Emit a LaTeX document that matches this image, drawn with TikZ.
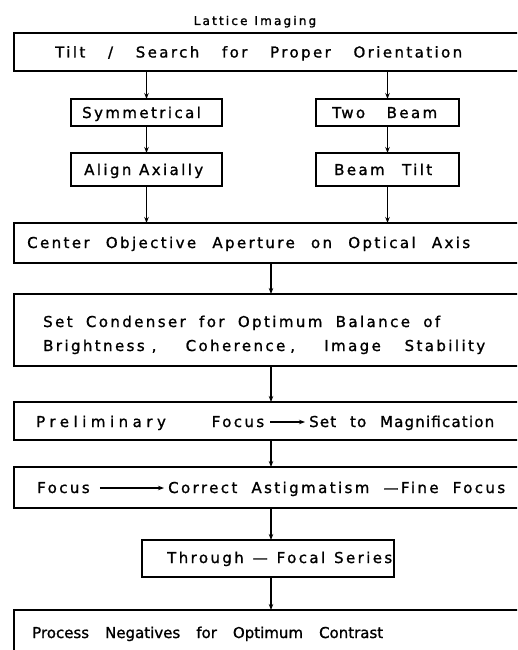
\documentclass[tikz,border=0pt]{standalone}
\usepackage{fontspec}
\setmainfont{DejaVu Sans}[LetterSpace=16, FakeBold=1.2]
\usetikzlibrary{arrows.meta}
\newcommand\spreadline[2]{\hbox to #1{\spaceskip=2pt plus 1fil\relax #2}}
\newcommand\widels[1]{{\addfontfeatures{LetterSpace=30}#1}}
\newcommand\narrowls[1]{{\addfontfeatures{LetterSpace=0}#1}}
\newcommand\midls[1]{{\addfontfeatures{LetterSpace=8}#1}}
\tikzset{
  box/.style={draw, line width=1.2pt, inner sep=0pt, outer sep=0pt},
  txt/.style={anchor=base west, inner sep=0pt, font=\fontsize{15}{18}\selectfont},
  conn/.style={line width=1.1pt, -{Stealth[length=6pt,width=4.5pt]}},
  tarrow/.style={line width=1.1pt, -{Stealth[length=6pt,width=4.5pt]}}
}
\begin{document}
\begin{tikzpicture}[x=1pt,y=-1pt]
\clip (0,0) rectangle (517,650);
\fill[white] (0,0) rectangle (517,650);
% title
\node[anchor=base, inner sep=0pt, font=\fontsize{12}{14}\selectfont] (title) at (255,25) {\addfontfeatures{LetterSpace=18, FakeBold=1.6}Lattice\hspace{7pt}Imaging};
% boxes
\node[box, minimum width=514pt, minimum height=38pt] (top) at (271,52) {};
\node[box, minimum width=151pt, minimum height=27pt] (sym) at (146.5,112.5) {};
\node[box, minimum width=143pt, minimum height=27pt] (two) at (387.5,112.5) {};
\node[box, minimum width=151pt, minimum height=33pt] (align) at (146.5,169.5) {};
\node[box, minimum width=143pt, minimum height=33pt] (btilt) at (387.5,169.5) {};
\node[box, minimum width=514pt, minimum height=40pt] (cen) at (271,243) {};
\node[box, minimum width=514pt, minimum height=72pt] (set) at (271,330) {};
\node[box, minimum width=514pt, minimum height=38pt] (pre) at (271,421) {};
\node[box, minimum width=514pt, minimum height=41pt] (foc) at (271,487.5) {};
\node[box, minimum width=252pt, minimum height=37pt] (thr) at (268,558.5) {};
\node[box, minimum width=514pt, minimum height=70pt] (proc) at (271,645) {};
% texts
\node[txt] (ttop) at (55,57.5) {\spreadline{407pt}{Tilt / Search for Proper Orientation}};
\node[txt] (tsym) at (82,118) {Symmetrical};
\node[txt] (ttwo) at (332,118) {\spreadline{105pt}{Two Beam}};
\node[txt] (talign) at (84,175) {\spreadline{119pt}{Align Axially}};
\node[txt] (tbtilt) at (334,175) {\spreadline{98pt}{Beam Tilt}};
\node[txt] (tcen) at (27,248) {\spreadline{443pt}{Center Objective Aperture on Optical Axis}};
\node[txt] (tset1) at (43,327) {\spreadline{397pt}{Set Condenser for Optimum Balance of}};
\node[txt] (tset2) at (43,351) {\spreadline{442pt}{Brightness\hspace{7pt}, Coherence\hspace{5pt}, Image Stability}};
\node[txt] (tpre1) at (36,427) {\spreadline{228pt}{\widels{Preliminary} Focus}};
\node[txt] (tpre2) at (309,427) {\midls{\spreadline{185pt}{Set to Magnification}}};
\node[txt] (tfoc1) at (37,493) {Focus};
\node[txt] (tfoc2) at (168,493) {\spreadline{337pt}{Correct Astigmatism —Fine Focus}};
\node[txt] (tthr) at (167,563) {\spreadline{225pt}{Through — Focal Series}};
\node[txt] (tproc) at (32,638) {\narrowls{\spreadline{351pt}{Process Negatives for Optimum Contrast}}};
% in-text arrows
\draw[tarrow] ([xshift=6pt,yshift=5pt]tpre1.base east) -- ([xshift=-4pt,yshift=5pt]tpre2.base west);
\draw[tarrow] ([xshift=10pt,yshift=5pt]tfoc1.base east) -- ([xshift=-4pt,yshift=5pt]tfoc2.base west);
% connectors
\draw[conn] (top.south -| sym.north) -- (sym.north);
\draw[conn] (top.south -| two.north) -- (two.north);
\draw[conn] (sym.south) -- (align.north);
\draw[conn] (two.south) -- (btilt.north);
\draw[conn] (align.south) -- (align.south |- cen.north);
\draw[conn] (btilt.south) -- (btilt.south |- cen.north);
\draw[conn] (cen.south) -- (set.north);
\draw[conn] (set.south) -- (pre.north);
\draw[conn] (pre.south) -- (foc.north);
\draw[conn] (foc.south) -- (foc.south |- thr.north);
\draw[conn] (thr.south -| foc.south) -- (proc.north);
\end{tikzpicture}
\end{document}
